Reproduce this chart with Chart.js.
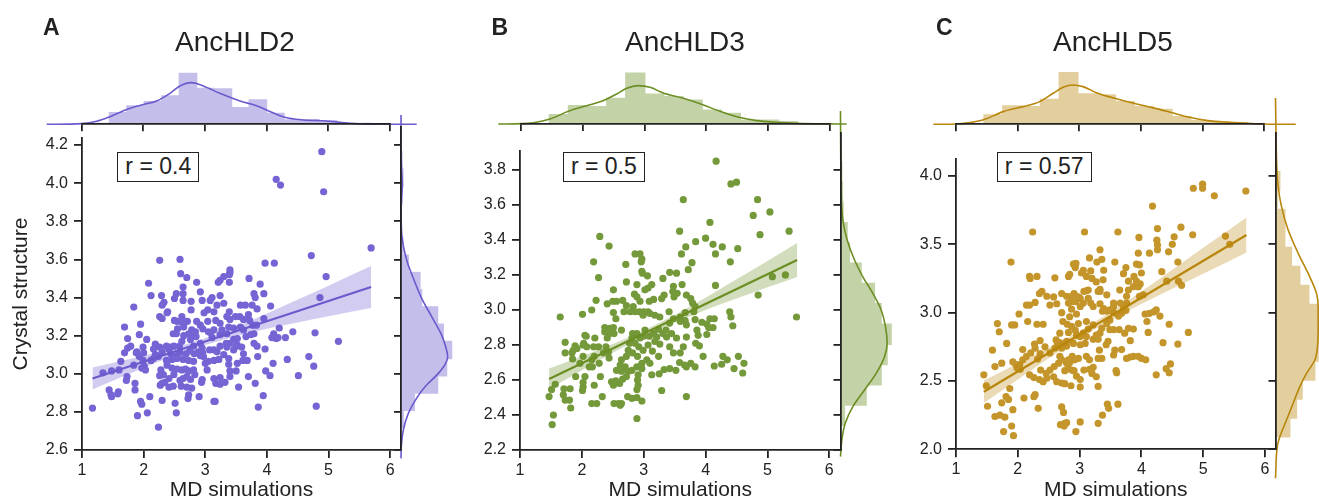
<!DOCTYPE html>
<html><head><meta charset="utf-8">
<script src="https://cdn.jsdelivr.net/npm/chart.js@4.4.1/dist/chart.umd.min.js"></script>
<style>
html,body{margin:0;padding:0;background:#fff;}
body{width:1319px;height:503px;position:relative;overflow:hidden;font-family:"Liberation Sans",Arial,Helvetica,sans-serif;color:#222;}
canvas{position:absolute;}
.lbl{position:absolute;white-space:nowrap;line-height:1;}
.rbox{position:absolute;box-sizing:border-box;border:1.3px solid #222;background:#fff;display:flex;align-items:center;justify-content:center;line-height:1;font-size:23px;}
</style></head><body>
<script>
// ---------------- DATA ----------------
const panelNames = ['AncHLD2', 'AncHLD3', 'AncHLD5'];
const panelLetters = ['A', 'B', 'C'];
const rLabels = ['r = 0.4', 'r = 0.5', 'r = 0.57'];
const xTitle = 'MD simulations';
const yTitle = 'Crystal structure';
const xTicks = [1, 2, 3, 4, 5, 6];
const yTicksA = [2.6, 2.8, 3.0, 3.2, 3.4, 3.6, 3.8, 4.0, 4.2];
const yTicksB = [2.2, 2.4, 2.6, 2.8, 3.0, 3.2, 3.4, 3.6, 3.8];
const yTicksC = [2.0, 2.5, 3.0, 3.5, 4.0];

const pointsA = [[4.89,4.165],[4.15,4.02],[4.22,3.99],[4.92,3.955],[5.69,3.66],[4.72,3.62],[3.97,3.58],[4.12,3.58],[4.96,3.51],[4.86,3.40],[5.16,3.17],[4.80,2.83],[4.42,3.22],[4.78,3.215],[4.68,3.09],[4.76,3.04],[4.51,2.99],[4.33,3.075],[4.20,3.24],[4.30,3.19],[4.18,3.19],[4.15,3.185],[4.08,3.19],[4.11,3.21],[4.06,3.355],[3.95,3.42],[3.95,3.29],[3.97,3.13],[4.10,3.055],[3.98,3.015],[4.05,2.99],[3.94,2.885],[3.86,2.825],[3.81,2.95],[3.85,3.09],[3.89,3.47],[3.71,3.50],[3.79,3.42],[3.81,3.40],[3.76,3.36],[3.84,3.34],[3.70,3.31],[3.83,3.255],[3.79,3.21],[3.77,3.255],[3.65,3.36],[3.72,3.28],[3.62,3.285],[3.56,3.30],[3.57,3.245],[3.66,3.195],[3.59,3.14],[3.52,3.15],[3.50,3.145],[3.62,3.105],[3.68,3.07],[3.61,3.07],[3.70,2.985],[3.50,3.015],[3.40,3.015],[3.52,3.055],[3.38,3.08],[3.46,3.125],[3.40,3.16],[3.35,3.14],[3.40,3.285],[3.39,3.325],[3.40,3.545],[3.40,3.53],[3.39,3.52],[3.30,3.51],[3.24,3.49],[3.21,3.48],[3.39,3.48],[3.11,3.40],[3.24,3.41],[3.30,3.37],[3.19,3.36],[3.08,3.385],[3.14,3.325],[3.04,3.335],[3.04,3.275],[2.98,3.32],[3.17,3.28],[3.24,3.265],[3.27,3.23],[3.35,3.30],[3.38,3.245],[3.35,3.21],[3.46,3.24],[3.24,3.205],[3.14,3.23],[3.11,3.19],[3.05,3.22],[2.96,3.235],[2.92,3.255],[2.86,3.275],[2.95,3.385],[2.92,3.43],[2.86,3.48],[2.70,3.505],[2.60,3.525],[2.59,3.60],[2.26,3.595],[2.08,3.475],[2.12,3.41],[2.29,3.41],[2.33,3.375],[2.39,3.325],[2.53,3.42],[2.64,3.42],[2.64,3.385],[2.77,3.38],[2.77,3.335],[2.71,3.275],[2.62,3.30],[2.50,3.28],[2.54,3.275],[2.62,3.27],[2.65,3.245],[2.68,3.275],[2.55,3.235],[2.53,3.21],[2.48,3.21],[2.65,3.20],[2.73,3.21],[2.78,3.23],[2.80,3.21],[2.84,3.22],[2.85,3.195],[2.76,3.18],[2.62,3.17],[2.58,3.145],[2.49,3.145],[2.43,3.14],[2.37,3.145],[2.26,3.14],[2.19,3.155],[2.16,3.13],[2.30,3.115],[2.41,3.13],[2.44,3.105],[2.54,3.095],[2.59,3.11],[2.69,3.105],[2.75,3.12],[2.81,3.145],[2.92,3.16],[2.95,3.135],[2.96,3.11],[2.92,3.095],[2.97,3.09],[2.89,3.115],[2.82,3.105],[3.07,3.125],[3.14,3.125],[3.19,3.115],[3.24,3.145],[3.30,3.10],[3.22,3.075],[3.14,3.07],[3.05,3.065],[3.00,3.055],[2.81,3.065],[2.73,3.07],[2.64,3.075],[2.54,3.08],[2.46,3.075],[2.38,3.045],[2.46,3.03],[2.54,3.025],[2.62,3.02],[2.68,3.025],[2.73,3.015],[2.81,3.02],[2.83,2.995],[2.76,2.97],[2.70,2.985],[2.64,2.975],[2.59,2.965],[2.49,2.995],[2.41,2.975],[2.32,2.995],[2.28,3.02],[2.26,2.99],[2.34,2.955],[2.27,2.94],[2.30,2.95],[2.41,2.93],[2.48,2.935],[2.61,2.935],[2.70,2.93],[2.78,2.925],[2.95,2.97],[2.94,2.955],[3.03,3.02],[3.14,2.975],[3.17,2.95],[3.24,2.945],[3.24,2.98],[3.32,2.955],[3.40,2.985],[3.38,3.05],[3.54,2.93],[3.16,2.855],[3.14,2.855],[2.90,2.88],[2.73,2.89],[2.72,2.87],[2.51,2.845],[2.53,2.795],[2.30,2.86],[2.24,2.72],[2.06,2.795],[1.95,2.855],[1.97,2.84],[1.90,2.78],[2.10,2.88],[1.86,2.915],[1.86,2.95],[1.73,2.985],[1.72,2.965],[1.59,2.905],[1.58,2.895],[1.44,2.915],[1.47,2.89],[1.48,2.88],[1.17,2.82],[1.34,3.005],[1.48,3.015],[1.60,3.02],[1.63,3.065],[1.69,3.11],[1.74,3.135],[1.69,3.245],[1.74,3.185],[1.84,3.35],[1.79,3.145],[1.84,3.045],[1.88,3.11],[1.93,3.09],[1.95,3.26],[1.93,3.205],[1.99,3.14],[2.00,3.11],[1.99,3.07],[2.01,3.04],[2.03,3.02],[1.97,3.03],[2.05,3.18],[1.89,3.115],[2.12,3.07],[2.16,3.08],[2.19,3.10],[2.24,3.09],[2.37,3.07],[2.30,3.29],[2.26,3.30],[2.30,3.36],[2.38,3.32],[2.64,3.455],[2.50,3.395],[3.09,3.215],[3.46,3.18],[3.52,3.185],[3.34,3.16],[3.49,3.30],[3.57,3.36],[3.62,3.23],[3.74,3.205],[3.79,3.16],[3.84,3.145]];

const pointsB = [[4.17,3.85],[4.41,3.72],[4.50,3.73],[3.64,3.63],[4.84,3.63],[5.04,3.56],[4.77,3.54],[4.88,3.43],[5.35,3.45],[3.58,3.45],[4.07,3.50],[3.68,3.36],[3.84,3.39],[3.61,3.32],[4.00,3.41],[4.12,3.375],[4.16,3.32],[4.27,3.36],[4.52,3.35],[4.40,3.275],[3.78,3.27],[3.72,3.23],[5.08,3.19],[5.29,3.20],[5.47,2.96],[4.85,3.085],[4.16,3.14],[4.39,2.99],[4.41,2.96],[4.44,2.91],[4.14,2.95],[4.07,2.95],[3.94,2.93],[4.02,2.92],[4.05,2.90],[4.12,2.90],[4.02,2.86],[3.86,2.885],[3.88,2.855],[3.84,2.81],[3.90,2.795],[3.96,2.735],[4.28,2.735],[4.35,2.715],[4.53,2.735],[4.62,2.695],[4.60,2.64],[4.46,2.665],[4.14,2.68],[4.26,2.69],[3.83,2.675],[3.76,2.695],[3.69,2.675],[3.66,2.685],[3.69,2.505],[3.58,2.70],[3.52,2.655],[3.42,2.665],[3.33,2.66],[3.25,2.635],[3.13,2.63],[3.29,2.54],[2.97,2.48],[2.89,2.50],[2.81,2.495],[2.74,2.505],[2.89,2.38],[2.89,2.545],[2.91,2.57],[2.90,2.60],[2.91,2.63],[2.97,2.665],[2.89,2.675],[2.81,2.655],[2.72,2.62],[2.66,2.605],[2.61,2.58],[2.55,2.595],[2.48,2.59],[2.51,2.57],[2.64,2.465],[2.62,2.455],[2.59,2.465],[2.52,2.465],[2.33,2.505],[2.24,2.465],[2.16,2.465],[2.20,2.57],[2.30,2.62],[2.05,2.62],[2.02,2.585],[2.01,2.54],[2.02,2.56],[1.90,2.62],[1.82,2.44],[1.80,2.485],[1.73,2.485],[1.70,2.515],[1.71,2.55],[1.81,2.55],[1.57,2.575],[1.51,2.545],[1.47,2.505],[1.54,2.40],[1.52,2.345],[1.73,2.755],[1.73,2.815],[1.84,2.755],[1.86,2.77],[1.89,2.795],[1.92,2.78],[1.85,2.72],[1.97,2.695],[2.02,2.735],[2.03,2.81],[2.05,2.855],[2.08,2.79],[2.19,2.79],[2.21,2.84],[2.20,2.735],[2.16,2.715],[2.27,2.79],[2.35,2.755],[2.43,2.76],[2.39,2.79],[2.41,2.84],[2.37,2.875],[2.37,2.90],[2.45,2.895],[2.51,2.90],[2.52,2.865],[2.45,2.865],[2.64,2.885],[2.50,3.05],[2.56,3.05],[2.55,2.95],[2.51,2.985],[2.41,3.035],[2.51,3.115],[2.66,3.055],[2.72,3.025],[2.68,2.99],[2.78,2.99],[2.83,3.02],[2.86,2.99],[2.72,3.16],[2.71,3.26],[2.86,3.32],[2.94,3.32],[2.97,3.29],[2.96,3.275],[2.85,3.09],[2.89,3.075],[2.89,3.145],[2.97,3.22],[2.98,3.21],[3.06,3.195],[3.02,3.115],[3.07,3.125],[3.13,3.145],[3.09,3.05],[3.16,3.06],[2.94,3.05],[2.93,2.99],[3.00,2.99],[3.07,2.99],[2.99,2.97],[3.10,2.98],[3.18,2.97],[3.26,2.96],[3.29,3.065],[3.33,3.085],[3.31,3.18],[3.42,3.215],[3.53,3.21],[3.48,3.135],[3.47,3.105],[3.54,3.095],[3.62,3.145],[3.49,3.075],[3.69,3.085],[3.76,3.065],[3.79,3.04],[3.83,3.02],[3.81,2.99],[3.67,2.985],[3.59,2.96],[3.67,2.94],[3.59,2.935],[3.69,2.915],[3.83,2.945],[3.41,2.99],[3.48,2.95],[3.42,2.925],[3.36,2.885],[3.45,2.865],[3.53,2.84],[3.37,2.845],[3.31,2.865],[3.24,2.89],[3.21,2.845],[3.16,2.865],[3.09,2.85],[3.18,2.82],[3.26,2.805],[3.42,2.79],[3.48,2.755],[3.59,2.755],[3.64,2.79],[3.69,2.845],[3.02,2.885],[3.00,2.85],[2.94,2.84],[2.89,2.865],[2.82,2.865],[2.81,2.84],[2.77,2.81],[2.86,2.81],[2.92,2.79],[2.99,2.77],[3.07,2.80],[3.14,2.765],[3.24,2.735],[3.05,2.715],[3.10,2.695],[2.97,2.695],[2.90,2.735],[2.82,2.755],[2.75,2.77],[2.72,2.735],[2.64,2.715],[2.62,2.685],[2.70,2.675],[2.75,2.65],[2.64,2.65],[2.56,2.655],[2.44,2.725],[2.28,2.695],[2.17,2.675],[2.12,2.675],[1.65,2.96],[2.01,2.975],[2.16,3.00],[2.23,3.055],[2.19,3.275],[2.27,3.185],[2.29,3.42],[2.44,3.365],[2.07,2.85],[2.02,2.80]];

const pointsC = [[4.80,4.166],[4.84,3.91],[4.99,3.94],[4.99,3.91],[5.18,3.855],[5.69,3.89],[4.18,3.78],[5.36,3.56],[5.43,3.50],[4.83,3.57],[4.64,3.625],[4.53,3.555],[4.50,3.50],[4.44,3.445],[4.26,3.615],[4.25,3.53],[4.26,3.495],[4.26,3.46],[4.13,3.435],[3.96,3.55],[3.95,3.435],[3.92,3.355],[3.97,3.35],[4.00,3.29],[3.88,3.265],[3.92,3.23],[3.98,3.21],[3.95,3.19],[4.03,3.13],[3.87,3.19],[3.79,3.23],[3.75,3.33],[3.71,3.285],[3.57,3.37],[3.62,3.59],[3.08,3.59],[2.24,3.59],[1.89,3.37],[4.33,3.30],[4.41,3.23],[4.59,3.37],[4.60,3.23],[4.65,3.20],[3.97,3.12],[3.79,3.165],[3.76,3.12],[3.65,3.165],[3.76,3.07],[3.66,3.07],[3.71,3.03],[3.75,3.015],[3.68,2.995],[3.63,2.975],[3.55,3.00],[3.55,3.045],[3.49,3.02],[3.44,3.01],[3.39,3.03],[3.37,3.01],[3.33,3.065],[3.33,3.155],[3.30,3.155],[3.38,3.24],[3.39,3.31],[3.36,3.39],[3.33,3.46],[3.28,3.37],[3.16,3.40],[3.06,3.31],[3.03,3.29],[3.18,3.305],[2.93,3.33],[2.90,3.355],[2.94,3.36],[2.84,3.28],[2.82,3.265],[3.14,3.165],[3.11,3.16],[3.07,3.155],[3.01,3.105],[3.14,3.105],[3.18,3.07],[3.22,3.045],[3.06,3.07],[3.01,3.045],[2.94,3.08],[2.87,3.08],[2.82,3.07],[2.79,3.12],[2.71,3.14],[2.60,3.255],[2.47,3.12],[2.39,3.155],[2.31,3.265],[2.19,3.265],[2.19,3.055],[2.02,2.99],[2.28,3.075],[2.52,3.055],[2.71,3.00],[2.87,3.025],[2.95,2.99],[2.84,2.97],[2.73,2.935],[2.80,2.915],[2.87,2.90],[2.93,2.87],[2.98,2.92],[3.11,2.935],[3.22,2.91],[3.14,2.88],[3.06,2.85],[2.95,2.835],[2.82,2.855],[2.68,2.85],[2.62,2.80],[2.68,2.78],[2.79,2.79],[2.90,2.775],[3.01,2.765],[3.09,2.775],[3.11,2.825],[3.27,2.835],[3.30,2.805],[3.32,2.725],[3.43,2.765],[3.46,2.79],[3.49,2.875],[3.55,2.875],[3.64,2.875],[3.79,2.885],[3.87,2.88],[3.73,2.85],[3.82,2.795],[3.68,2.73],[3.57,2.725],[3.55,2.69],[3.76,2.665],[3.82,2.675],[3.87,2.68],[3.95,2.68],[4.00,2.665],[4.07,2.655],[4.11,2.855],[4.09,2.935],[4.06,2.99],[4.13,2.995],[4.20,3.005],[4.24,3.02],[4.30,2.975],[4.45,2.915],[4.35,2.78],[4.59,2.77],[4.76,2.855],[4.24,2.545],[4.40,2.59],[4.47,2.625],[4.45,2.56],[3.60,2.56],[3.59,2.575],[3.62,2.33],[3.45,2.33],[3.47,2.30],[3.37,2.25],[3.30,2.19],[3.22,2.60],[3.27,2.53],[3.30,2.46],[3.01,2.455],[3.01,2.51],[3.07,2.58],[3.16,2.585],[3.20,2.555],[2.95,2.535],[2.91,2.575],[2.87,2.58],[2.82,2.59],[2.76,2.575],[2.79,2.63],[2.84,2.635],[2.92,2.655],[2.98,2.665],[2.88,2.68],[2.82,2.655],[2.71,2.655],[2.66,2.63],[2.59,2.605],[2.52,2.58],[2.47,2.52],[2.58,2.53],[2.63,2.495],[2.71,2.485],[2.76,2.48],[2.86,2.465],[2.71,2.31],[2.74,2.27],[2.69,2.18],[2.76,2.19],[2.79,2.195],[2.75,2.17],[3.01,2.20],[2.94,2.13],[2.35,2.51],[2.41,2.495],[2.46,2.555],[2.37,2.58],[2.26,2.525],[2.19,2.545],[2.32,2.66],[2.36,2.70],[2.28,2.74],[2.21,2.705],[2.14,2.68],[2.08,2.655],[2.03,2.62],[1.97,2.62],[1.92,2.64],[1.99,2.595],[2.04,2.585],[2.08,2.73],[2.27,2.77],[2.36,2.795],[2.44,2.75],[2.52,2.705],[2.60,2.74],[2.64,2.78],[2.68,2.68],[1.82,2.775],[1.90,2.91],[1.95,2.91],[2.16,2.935],[2.31,2.915],[2.41,2.915],[1.70,2.86],[1.67,2.92],[1.59,2.725],[1.74,2.63],[1.63,2.605],[1.45,2.545],[1.49,2.465],[1.51,2.315],[1.63,2.24],[1.71,2.25],[1.79,2.235],[1.74,2.34],[1.81,2.385],[1.77,2.13],[1.90,2.17],[1.93,2.10],[1.92,2.29],[1.87,2.445],[1.85,2.365],[2.10,2.375],[2.26,2.385],[2.28,2.40],[2.33,2.30],[2.14,3.055],[2.35,3.14],[2.20,3.25],[2.58,3.115],[2.63,3.065],[2.87,3.12],[2.91,3.14],[2.98,3.115],[3.11,3.265],[3.20,3.25],[3.27,3.225],[3.33,3.17],[3.44,3.13],[3.55,3.07],[3.49,2.945],[3.44,2.92],[3.36,2.885],[3.33,2.85],[3.11,2.68],[3.16,2.655],[3.30,2.665],[3.36,2.665],[2.79,2.755],[2.71,2.74],[3.01,2.825],[3.22,2.805]];

// regression lines and confidence bands
const fitXA = [1.17, 5.69], fitYA = [2.975, 3.455];
const bandXA = [1.17, 2.0, 2.5, 3.0, 3.5, 4.0, 4.5, 5.0, 5.69];
const bandLoA = [2.917, 3.031, 3.096, 3.151, 3.197, 3.236, 3.269, 3.302, 3.345];
const bandHiA = [3.033, 3.095, 3.136, 3.187, 3.247, 3.316, 3.389, 3.462, 3.565];
const fitXB = [1.47, 5.48], fitYB = [2.606, 3.286];
const bandXB = [1.47, 2.0, 2.5, 3.0, 3.5, 4.0, 4.5, 5.0, 5.48];
const bandLoB = [2.546, 2.656, 2.756, 2.847, 2.928, 3.0, 3.065, 3.13, 3.189];
const bandHiB = [2.666, 2.736, 2.806, 2.883, 2.972, 3.07, 3.175, 3.28, 3.383];
const fitXC = [1.45, 5.70], fitYC = [2.421, 3.568];
const bandXC = [1.45, 2.0, 2.5, 3.0, 3.5, 4.0, 4.5, 5.0, 5.70];
const bandLoC = [2.339, 2.511, 2.666, 2.812, 2.944, 3.064, 3.174, 3.284, 3.44];
const bandHiC = [2.503, 2.627, 2.742, 2.866, 3.004, 3.154, 3.314, 3.474, 3.696];

// marginal histograms (bin edges + bar heights, arbitrary density units)
const topEdgesA = [1.165,1.448,1.732,2.015,2.298,2.582,2.865,3.148,3.432,3.715,3.999,4.282,4.565,4.849,5.132,5.415,5.699];
const topHA = [3,35,55,68,85,153,108,106,50,73,33,13,14,11,3,3];
const topEdgesB = [1.462,1.771,2.080,2.389,2.698,3.007,3.316,3.625,3.934,4.243,4.552,4.861,5.170,5.479];
const topHB = [28,55,52,77,153,90,82,72,42,32,12,12,7];
const topEdgesC = [1.453,1.758,2.063,2.368,2.673,2.978,3.283,3.588,3.893,4.198,4.503,4.808,5.113,5.418,5.723];
const topHC = [28,55,53,75,155,91,88,68,53,45,23,11,8,5];
const rightEdgesA = [2.717,2.808,2.898,2.989,3.079,3.170,3.260,3.351,3.441,3.532,3.622,3.713,3.803,3.894,3.984,4.075,4.165];
const rightHA = [7,40,110,137,152,127,110,62,57,22,6,0,0,3,6,3];
const rightEdgesB = [2.340,2.456,2.572,2.688,2.804,2.920,3.036,3.152,3.268,3.384,3.500,3.616,3.732,3.848];
const rightHB = [12,77,122,140,152,122,102,62,27,20,8,6,4];
const rightEdgesC = [2.090,2.229,2.367,2.506,2.645,2.784,2.922,3.061,3.200,3.339,3.477,3.616,3.755,3.894,4.032,4.171];
const rightHC = [43,63,80,118,128,128,128,100,73,48,28,28,5,13,3];

// marginal KDE curves
const topKdeXA = [0.433,1.0,1.243,1.459,1.739,2.015,2.215,2.431,2.593,2.783,2.971,3.241,3.566,3.836,3.998,4.295,4.592,4.971,5.348,5.673,5.95,6.433];
const topKdeYA = [0,2,9,23,45,60,70,93,115,125,115,93,70,56,43,21,13,10,3,0.5,0,0];
const topKdeXB = [0.638,1.02,1.204,1.474,1.770,2.067,2.309,2.552,2.713,2.901,3.090,3.305,3.612,3.914,4.221,4.528,4.814,5.137,5.460,5.95,6.27];
const topKdeYB = [0,1,4,15,38,55,68,90,107,115,110,93,78,60,38,20,10,5,2,0.3,0];
const topKdeXC = [0.633,1.02,1.227,1.469,1.766,2.089,2.359,2.575,2.737,2.898,3.060,3.276,3.573,3.880,4.183,4.479,4.786,5.083,5.434,5.95,6.51];
const topKdeYC = [0,1,5,15,38,53,68,93,111,118,113,95,78,63,50,36,21,11,6,1,0];
const rightKdeVA = [2.556,2.62,2.705,2.792,2.880,2.932,3.002,3.055,3.090,3.142,3.203,3.300,3.396,3.501,3.597,3.737,3.85,3.93,3.99,4.06,4.15,4.358];
const rightKdeWA = [0,1,7,22,50,72,112,134,140,134,122,92,62,37,17,2,0.5,2,4,2,0.3,0];
const rightKdeVB = [2.162,2.257,2.352,2.448,2.543,2.638,2.733,2.810,2.905,3.0,3.095,3.190,3.286,3.4,3.514,3.61,3.8,4.137];
const rightKdeWB = [0,4,14,37,72,107,132,140,135,122,97,67,42,20,7,3,1,0];
const rightKdeVC = [1.788,2.03,2.092,2.214,2.337,2.458,2.556,2.653,2.751,2.897,3.043,3.141,3.287,3.434,3.604,3.775,3.921,4.116,4.25,4.57];
const rightKdeWC = [0,6,13,33,53,73,93,118,126,128,128,123,98,68,38,18,8,3,2,0];

// ---------------- STYLE / LAYOUT ----------------
const INK = '#222';
const COLORS = [
  {line:'#6A5ACD', point:'#7564D4', hist:'#C4BEEB', band:'rgba(106,90,205,0.30)'},
  {line:'#6B8E23', point:'#74993A', hist:'#C4D2A8', band:'rgba(107,142,35,0.30)'},
  {line:'#B8860B', point:'#C4952A', hist:'#E3CF9E', band:'rgba(184,134,11,0.30)'}
];
const GEOM = [
  {joint:{l:82,r:401,t:138,b:450}, xMax:6.175, yMin:2.6, yMax:4.237, axW:73.6, extraL:8.4, yTitle:true,
   top:{l:81.7,r:390,t:64,b:124.3}, right:{l:401,r:461,t:127,b:450,yMax:4.295},
   title:{x:235,top:27.6}, letter:{x:43,top:16.3}, rbox:{l:117.3,t:151.7,w:82,h:30.5}},
  {joint:{l:520,r:840.5,t:150.7,b:450}, xMax:6.181, yMin:2.2, yMax:3.91, axW:60, extraL:10, yTitle:false,
   top:{l:520.7,r:830,t:63.7,b:124}, right:{l:840.5,r:900.5,t:133.3,b:450,yMax:4.01},
   title:{x:685,top:27.6}, letter:{x:491.5,top:16.3}, rbox:{l:562.7,t:151.7,w:82.3,h:30.5}},
  {joint:{l:956,r:1275.5,t:159.3,b:449.3}, xMax:6.17, yMin:2.0, yMax:4.122, axW:60, extraL:10, yTitle:false,
   top:{l:956,r:1264.3,t:64,b:124.3}, right:{l:1275.5,r:1319,t:133.3,b:449.3,yMax:4.312},
   title:{x:1113,top:27.6}, letter:{x:936,top:16.3}, rbox:{l:996.7,t:151.7,w:95,h:30.5}}
];

const PANELS = [
  {pts:pointsA, yTicks:yTicksA, fitX:fitXA, fitY:fitYA, bandX:bandXA, bandLo:bandLoA, bandHi:bandHiA,
   topEdges:topEdgesA, topH:topHA, rightEdges:rightEdgesA, rightH:rightHA,
   topKdeX:topKdeXA, topKdeY:topKdeYA, rightKdeV:rightKdeVA, rightKdeW:rightKdeWA},
  {pts:pointsB, yTicks:yTicksB, fitX:fitXB, fitY:fitYB, bandX:bandXB, bandLo:bandLoB, bandHi:bandHiB,
   topEdges:topEdgesB, topH:topHB, rightEdges:rightEdgesB, rightH:rightHB,
   topKdeX:topKdeXB, topKdeY:topKdeYB, rightKdeV:rightKdeVB, rightKdeW:rightKdeWB},
  {pts:pointsC, yTicks:yTicksC, fitX:fitXC, fitY:fitYC, bandX:bandXC, bandLo:bandLoC, bandHi:bandHiC,
   topEdges:topEdgesC, topH:topHC, rightEdges:rightEdgesC, rightH:rightHC,
   topKdeX:topKdeXC, topKdeY:topKdeYC, rightKdeV:rightKdeVC, rightKdeW:rightKdeWC}
];

// ---------------- HELPERS ----------------
Chart.defaults.font.family = '"Liberation Sans", Arial, Helvetica, sans-serif';
Chart.defaults.color = INK;
const setTicks = vals => scale => { scale.ticks = vals.map(v => ({value: v})); };
const fixW = w => s => { s.width = w; };
const fixH = h => s => { s.height = h; };
const xy = (xs, ys) => xs.map((x, i) => ({x: x, y: ys[i]}));
const pairs = arr => arr.map(p => ({x: p[0], y: p[1]}));
const centers = e => e.slice(0, -1).map((v, i) => (v + e[i + 1]) / 2);
const baseOpts = {responsive:false, animation:false, devicePixelRatio:1, events:[],
  plugins:{legend:{display:false}, tooltip:{enabled:false}}};
function mkCanvas(x0, y0, x1, y1) {
  const c = document.createElement('canvas');
  c.width = x1 - x0; c.height = y1 - y0;
  c.style.left = x0 + 'px'; c.style.top = y0 + 'px';
  c.style.width = (x1 - x0) + 'px'; c.style.height = (y1 - y0) + 'px';
  document.body.appendChild(c);
  return c;
}
const axisGrid = len => ({display:true, drawOnChartArea:false, drawTicks:true, tickLength:len, color:INK, lineWidth:1.8, offset:false});
const axisBorder = {display:true, color:INK, width:1.8, z:1};

function drawJoint(P, G, C) {
  const a = G.joint;
  const x0 = Math.floor(a.l - G.axW - G.extraL), y0 = Math.floor(a.t - 25);
  const x1 = Math.ceil(a.r + 15), y1 = 503;
  const axH = y1 - a.b;
  const cv = mkCanvas(x0, y0, x1, y1);
  new Chart(cv, {
    type:'scatter',
    data:{datasets:[
      {type:'line', data:xy(P.fitX, P.fitY), borderColor:C.line, borderWidth:2.2, pointRadius:0, fill:false, order:0},
      {type:'line', data:xy(P.bandX, P.bandLo), borderColor:'rgba(0,0,0,0)', borderWidth:0, pointRadius:0, fill:false, cubicInterpolationMode:'monotone', order:2},
      {type:'line', data:xy(P.bandX, P.bandHi), borderColor:'rgba(0,0,0,0)', borderWidth:0, pointRadius:0, fill:'-1', backgroundColor:C.band, cubicInterpolationMode:'monotone', order:1},
      {type:'scatter', data:pairs(P.pts), backgroundColor:C.point, borderWidth:0, pointRadius:3.6, order:3}
    ]},
    options:Object.assign({}, baseOpts, {
      layout:{padding:{left:a.l - G.axW - x0, top:a.t - y0, right:x1 - a.r, bottom:0}},
      scales:{
        x:{type:'linear', min:1, max:G.xMax, afterBuildTicks:setTicks(xTicks), afterFit:fixH(axH),
           grid:axisGrid(8), border:axisBorder,
           ticks:{padding:3, font:{size:16}, color:INK, maxRotation:0, autoSkip:false},
           title:{display:true, text:xTitle, font:{size:21}, color:INK, padding:0}},
        y:{type:'linear', min:G.yMin, max:G.yMax, afterBuildTicks:setTicks(P.yTicks), afterFit:fixW(G.axW),
           grid:axisGrid(8), border:axisBorder,
           ticks:{padding:6, font:{size:16}, color:INK, autoSkip:false, callback:v => Number(v).toFixed(1)},
           title:{display:G.yTitle, text:yTitle, font:{size:21}, color:INK, padding:0}}
      }
    })
  });
}

function drawTop(P, G, C) {
  const a = G.top;
  const x0 = Math.floor(a.l - 52), x1 = Math.ceil(a.r + 45);
  const y0 = Math.floor(a.t - 8), y1 = Math.ceil(a.b + 15);
  const cv = mkCanvas(x0, y0, x1, y1);
  new Chart(cv, {
    type:'bar',
    data:{datasets:[
      {type:'line', data:xy(P.topKdeX, P.topKdeY), borderColor:C.line, borderWidth:1.6, pointRadius:0,
       cubicInterpolationMode:'monotone', capBezierPoints:false, clip:false, fill:false, order:0},
      {type:'bar', data:xy(centers(P.topEdges), P.topH), backgroundColor:C.hist, borderWidth:0,
       barPercentage:1, categoryPercentage:1, inflateAmount:0.6, order:1}
    ]},
    options:Object.assign({}, baseOpts, {
      layout:{padding:{left:a.l - x0, right:x1 - a.r, top:a.t - y0, bottom:y1 - a.b - 7}},
      scales:{
        x:{type:'linear', min:1, max:6, offset:false, afterBuildTicks:setTicks(xTicks), afterFit:fixH(7),
           grid:axisGrid(7), border:axisBorder, ticks:{display:false}},
        y:{type:'linear', display:false, min:0, max:(a.b - a.t) * 3, offset:false}
      }
    })
  });
}

function drawRight(P, G, C) {
  const a = G.right;
  const x0 = Math.floor(a.l - 7 - 6), x1 = Math.min(1319, Math.ceil(a.r + 6));
  const y0 = Math.floor(a.t - 40), y1 = Math.ceil(a.b + 35);
  const cv = mkCanvas(x0, y0, x1, y1);
  new Chart(cv, {
    type:'bar',
    data:{datasets:[
      {type:'line', indexAxis:'y', data:xy(P.rightKdeW, P.rightKdeV), borderColor:C.line, borderWidth:1.6, pointRadius:0,
       cubicInterpolationMode:'monotone', capBezierPoints:false, clip:false, fill:false, order:0},
      {type:'bar', indexAxis:'y', data:xy(P.rightH, centers(P.rightEdges)), backgroundColor:C.hist, borderWidth:0,
       barPercentage:1, categoryPercentage:1, inflateAmount:0.6, order:1}
    ]},
    options:Object.assign({}, baseOpts, {
      indexAxis:'y',
      layout:{padding:{left:a.l - 7 - x0, right:x1 - a.r, top:a.t - y0, bottom:y1 - a.b}},
      scales:{
        y:{type:'linear', position:'left', min:G.yMin, max:a.yMax, offset:false, afterBuildTicks:setTicks(P.yTicks),
           afterFit:fixW(7), grid:axisGrid(7), border:axisBorder, ticks:{display:false}},
        x:{type:'linear', display:false, min:0, max:(a.r - a.l) * 3, offset:false}
      }
    })
  });
}

function addLabel(text, css, cls) {
  const d = document.createElement('div');
  d.className = cls || 'lbl';
  d.textContent = text;
  Object.assign(d.style, css);
  document.body.appendChild(d);
}

PANELS.forEach((P, i) => {
  const G = GEOM[i], C = COLORS[i];
  drawJoint(P, G, C);
  drawTop(P, G, C);
  drawRight(P, G, C);
});
PANELS.forEach((P, i) => {
  const G = GEOM[i];
  addLabel(panelNames[i], {left:G.title.x + 'px', top:G.title.top + 'px', fontSize:'28px', transform:'translateX(-50%)'});
  addLabel(panelLetters[i], {left:G.letter.x + 'px', top:G.letter.top + 'px', fontSize:'23px', fontWeight:'bold'});
  addLabel(rLabels[i], {left:G.rbox.l + 'px', top:G.rbox.t + 'px', width:G.rbox.w + 'px', height:G.rbox.h + 'px'}, 'rbox');
});
</script>
</body></html>
